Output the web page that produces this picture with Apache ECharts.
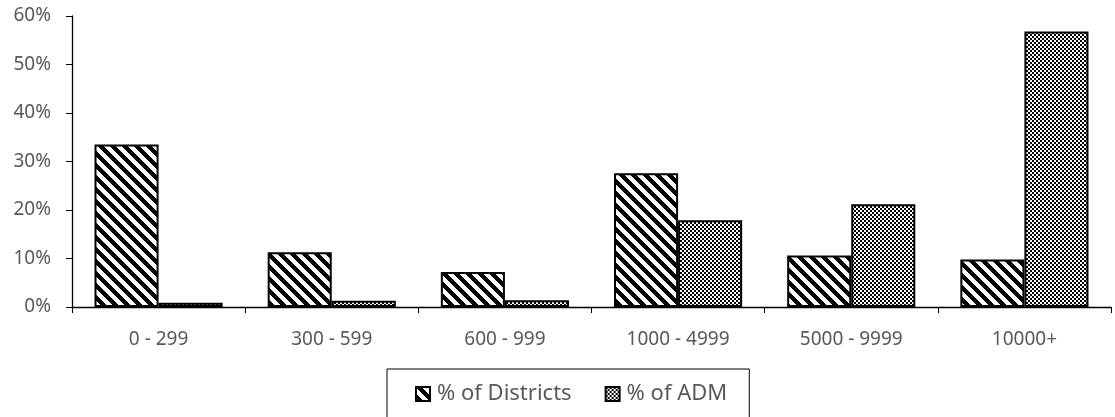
<!DOCTYPE html>
<html><head><meta charset="utf-8">
<script src="https://cdn.jsdelivr.net/npm/echarts@6/dist/echarts.min.js"></script>
<style>html,body{margin:0;padding:0;background:#fff}#c{width:1115px;height:417px}</style>
</head><body><div id="c"></div>
<script>
const categories = ['0 - 299','300 - 599','600 - 999','1000 - 4999','5000 - 9999','10000+'];
const districts = [33.5, 11.3, 7.2, 27.6, 10.6, 9.8];
const adm = [0.9, 1.3, 1.4, 17.9, 21.2, 56.8];
const yTicks = [0,10,20,30,40,50,60];

function stripeCanvas(){
  const s=12, w=6, c=document.createElement('canvas'); c.width=s; c.height=s;
  const g=c.getContext('2d'); g.fillStyle='#fff'; g.fillRect(0,0,s,s);
  g.fillStyle='#000';
  for(let y=0;y<s;y++) for(let x=0;x<s;x++){ if((((x-y)%s)+s)%s < w) g.fillRect(x,y,1,1); }
  return c;
}
function checkCanvas(){
  const s=4, c=document.createElement('canvas'); c.width=s; c.height=s;
  const g=c.getContext('2d'); g.fillStyle='#fff'; g.fillRect(0,0,s,s);
  g.fillStyle='#000'; g.fillRect(0,0,2,2); g.fillRect(2,2,2,2);
  return c;
}
const chart = echarts.init(document.getElementById('c'), null, {renderer:'canvas'});
const font = 'Noto Sans';
chart.setOption({
  animation:false,
  grid:{left:72, right:4, top:16, bottom:110},
  xAxis:{type:'category', data:categories,
    axisLine:{lineStyle:{color:'#000', width:1.3}},
    axisTick:{show:true, length:6, lineStyle:{color:'#000'}},
    axisLabel:{color:'#595959', fontSize:19, fontFamily:font, margin:23}},
  yAxis:{type:'value', min:0, max:60, interval:10,
    axisLine:{show:true, lineStyle:{color:'#000', width:1.3}},
    axisTick:{show:true, length:6, lineStyle:{color:'#000'}},
    splitLine:{show:false},
    axisLabel:{color:'#595959', fontSize:19, fontFamily:font, margin:21,
      formatter:v=> yTicks.includes(v) ? v+'%' : ''}},
  legend:{top:369, left:387, itemWidth:14, itemHeight:14, itemGap:33, icon:'rect',
    borderColor:'#000', borderWidth:1, padding:[14,22,24,28],
    textStyle:{color:'#595959', fontSize:22, fontFamily:font, padding:[0,0,0,2]},
    data:['% of Districts','% of ADM']},
  series:[
    {name:'% of Districts', type:'bar', data:districts, barGap:'0%', barCategoryGap:'26%',
     itemStyle:{color:{image:stripeCanvas(), repeat:'repeat'}, borderColor:'#000', borderWidth:2}},
    {name:'% of ADM', type:'bar', data:adm,
     itemStyle:{color:{image:checkCanvas(), repeat:'repeat'}, borderColor:'#000', borderWidth:2}}
  ]
});
</script></body></html>
